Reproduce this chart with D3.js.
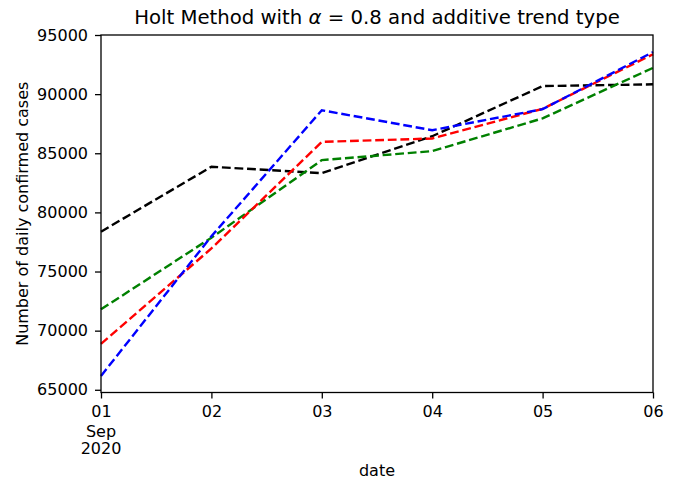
<!DOCTYPE html>
<html>
<head>
<meta charset="utf-8">
<script src="https://cdn.jsdelivr.net/npm/d3@7"></script>
<style>
  body { margin: 0; background: #fff; }
  text { font-family: "DejaVu Sans", sans-serif; }
</style>
</head>
<body>
<script>
// days of September 2020
let dates = ["2020-09-01", "2020-09-02", "2020-09-03", "2020-09-04", "2020-09-05", "2020-09-06"];

// actual values and the three fitted lines
let actual = [78370, 83860, 83320, 86440, 90680, 90830];
let fitBlue = [66170, 77980, 88640, 86950, 88730, 93560];
let fitRed = [68880, 76950, 85960, 86250, 88760, 93370];
let fitGreen = [71800, 77860, 84420, 85180, 87950, 92220];

let yTicks = [65000, 70000, 75000, 80000, 85000, 90000, 95000];
let xTickLabels = ["01", "02", "03", "04", "05", "06"];

let series = [
    {values: actual, color: "black"},
    {values: fitGreen, color: "green"},
    {values: fitRed, color: "red"},
    {values: fitBlue, color: "blue"}
];

let width = 675, height = 480;
let plotLeft = 101, plotRight = 653, plotTop = 35, plotBottom = 392.5;
let tickFont = 16;

let parse = d3.timeParse("%Y-%m-%d");
let days = dates.map(parse);

let svg = d3.select('body').append('svg').attr('width', width).attr('height', height);

let x = d3.scaleTime().domain([days[0], days[days.length - 1]]).range([plotLeft, plotRight]);
let y = d3.scaleLinear().domain([64770, 95000]).range([plotBottom, plotTop]);

let line = d3.line()
    .x(function(d, i){return x(days[i])})
    .y(function(d){return y(d)});

svg.append("g").selectAll("path")
    .data(series)
    .enter()
    .append("path")
    .attr("d", function(d){return line(d.values)})
    .attr("fill", "none")
    .attr("stroke", function(d){return d.color})
    .attr("stroke-width", 2.4)
    .attr("stroke-dasharray", "8.8,3.8");

// frame
svg.append("rect")
    .attr("x", plotLeft).attr("y", plotTop)
    .attr("width", plotRight - plotLeft).attr("height", plotBottom - plotTop)
    .attr("fill", "none").attr("stroke", "black").attr("stroke-width", 1.3);

let yAxis = svg.append("g")
    .attr("transform", "translate(" + plotLeft + ",0)")
    .call(d3.axisLeft(y).tickValues(yTicks).tickSize(6).tickPadding(7).tickFormat(d3.format("d")));

let xAxis = svg.append("g")
    .attr("transform", "translate(0," + plotBottom + ")")
    .call(d3.axisBottom(x).tickValues(days).tickSize(6).tickPadding(7)
        .tickFormat(function(d, i){return xTickLabels[i]}));

for (let ax of [xAxis, yAxis])
{
    ax.select(".domain").remove();
    ax.selectAll("line").attr("stroke", "black").attr("stroke-width", 1.3);
    ax.selectAll("text").attr("font-size", tickFont).attr("fill", "black").attr("font-family", "DejaVu Sans");
}

// month and year under the first tick
svg.append("text").attr("x", x(days[0])).attr("y", 436.5).attr("text-anchor", "middle")
    .attr("font-size", tickFont).text("Sep");
svg.append("text").attr("x", x(days[0])).attr("y", 454).attr("text-anchor", "middle")
    .attr("font-size", tickFont).text("2020");

svg.append("text").attr("x", (plotLeft + plotRight) / 2).attr("y", 476).attr("text-anchor", "middle")
    .attr("font-size", 16).text("date");

svg.append("text")
    .attr("transform", "translate(28," + ((plotTop + plotBottom) / 2) + ") rotate(-90)")
    .attr("text-anchor", "middle").attr("font-size", 16)
    .text("Number of daily confirmed cases");

let title = svg.append("text").attr("x", (plotLeft + plotRight) / 2).attr("y", 24)
    .attr("text-anchor", "middle").attr("font-size", 19.7);
title.append("tspan").text("Holt Method with ");
title.append("tspan").attr("font-style", "italic").text("α");
title.append("tspan").text(" = 0.8 and additive trend type");
</script>
</body>
</html>
